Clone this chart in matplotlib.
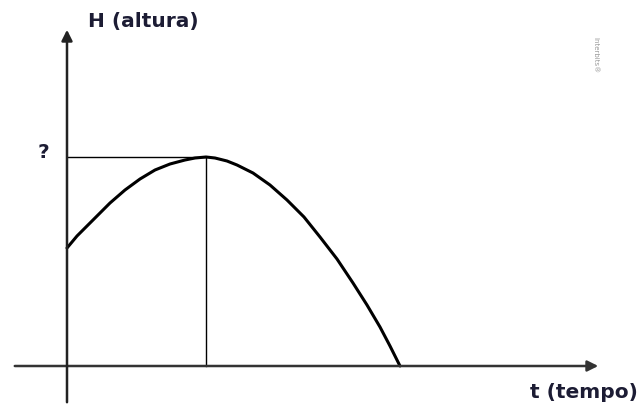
import matplotlib
matplotlib.use("Agg")
import matplotlib.pyplot as plt

# curve (t, H) with origin at the axes crossing
t_vals = [0, 10, 23, 33, 43, 58, 73, 88, 103, 118, 128, 139, 148, 160, 170, 186, 203, 220, 237, 253, 270, 286, 300, 313, 323, 333]
h_vals = [118, 130, 143, 153, 163, 176, 187, 196, 202, 206, 208, 209, 208, 205, 201, 193, 181, 166, 149, 129, 107, 83, 61, 39, 20, 0]

t_peak = 139
h_peak = 209

text_color = "#1c1c34"

fig = plt.figure(figsize=(6.39, 4.05), dpi=100)
ax = fig.add_axes([0, 0, 1, 1])
ax.set_xlim(-67, 572)
ax.set_ylim(-39, 366)
ax.axis("off")

# axes with arrows
ax.annotate("", xy=(534, 0), xytext=(-55, 0),
            arrowprops=dict(arrowstyle="-|>", color="#333333", lw=1.8, mutation_scale=16))
ax.annotate("", xy=(0, 339), xytext=(0, -39),
            arrowprops=dict(arrowstyle="-|>", color="#222222", lw=1.8, mutation_scale=16))

# helper lines to the peak
ax.plot([0, t_peak], [h_peak, h_peak], color="black", lw=1.0)
ax.plot([t_peak, t_peak], [0, h_peak], color="black", lw=1.0)

# trajectory
ax.plot(t_vals, h_vals, color="black", lw=2.2, solid_capstyle="round")

font = dict(fontsize=14.5, fontweight="bold", family="DejaVu Sans", color=text_color)
ax.text(21, 344, "H (altura)", ha="left", va="center", **font)
ax.text(-24, 214, "?", ha="center", va="center", **font)
ax.text(571, -26, "t (tempo)", ha="right", va="center", **font)
ax.text(528, 311, "Interbits®", fontsize=5, color="#999999", rotation=270,
        ha="center", va="center")

fig.savefig("out.png", dpi=100)
